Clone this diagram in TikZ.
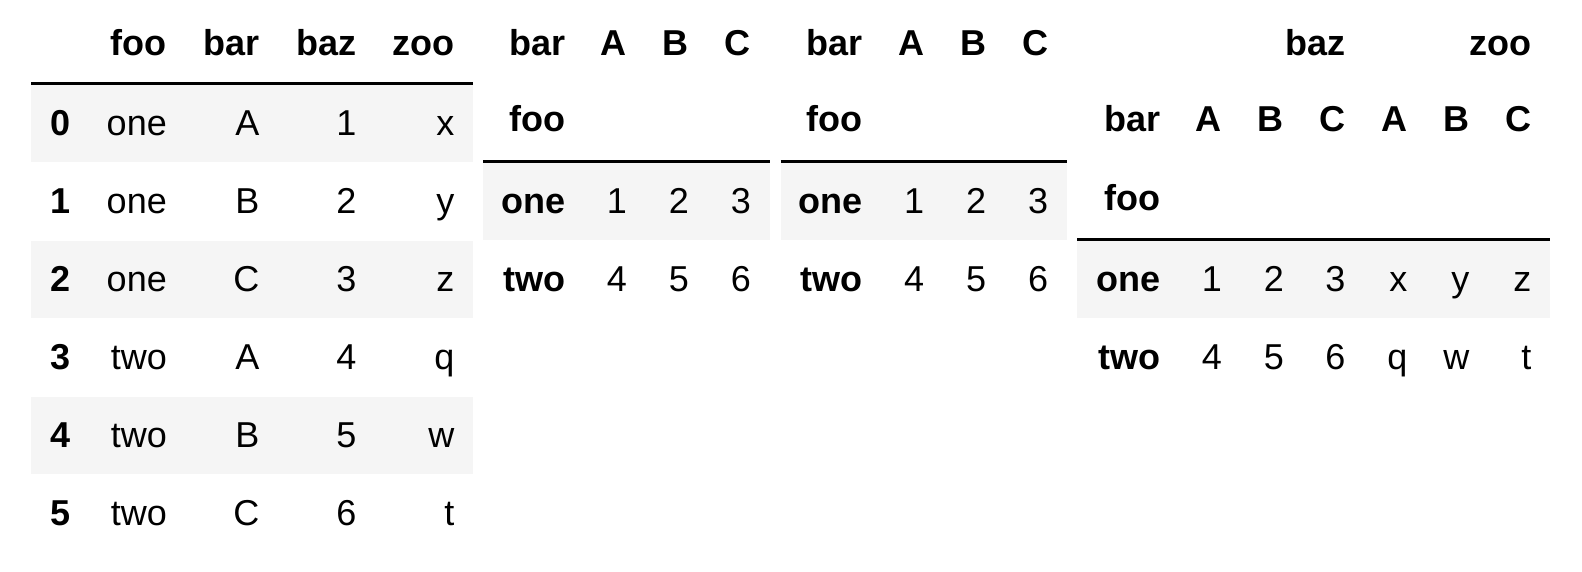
\documentclass[tikz,border=0pt]{standalone}
\usepackage{fontspec}
\setmainfont{Liberation Sans}
\definecolor{rowgray}{RGB}{245,245,245}
\tikzset{
  basefont/.style={font=\fontsize{36}{43}\selectfont},
  hd/.style={anchor=base east, inner sep=0pt, font=\fontsize{36}{43}\selectfont\bfseries},
  cell/.style={anchor=base east, inner sep=0pt, font=\fontsize{36}{43}\selectfont},
  band/.style={fill=rowgray, draw=none},
  hrule/.style={line width=3pt, draw=black},
}
\begin{document}
\begin{tikzpicture}[x=1pt, y=-1pt]
\useasboundingbox (0,0) rectangle (1582,571);
\fill[white] (0,0) rectangle (1582,571);

% ---------- Table 1 ----------
\fill[band] (31,85) rectangle (472.7,162.3);
\fill[band] (31,241) rectangle (472.7,318.3);
\fill[band] (31,397) rectangle (472.7,474.3);
\draw[hrule] (31,83.3) -- (472.7,83.3);
\node[hd] (t1hfoo) at (167,55) {foo};
\node[hd] (t1hbar) at (259.5,55) {bar};
\node[hd] (t1hbaz) at (356.5,55) {baz};
\node[hd] (t1hzoo) at (454.5,55) {zoo};
\foreach \i/\f/\b/\z/\o in {0/one/A/1/x, 1/one/B/2/y, 2/one/C/3/z, 3/two/A/4/q, 4/two/B/5/w, 5/two/C/6/t} {
  \pgfmathsetmacro\yy{135.7+78*\i}
  \node[hd]   (t1r\i idx) at (70.5,\yy)  {\i};
  \node[cell] (t1r\i foo) at (167,\yy)   {\f};
  \node[cell] (t1r\i bar) at (259.5,\yy) {\b};
  \node[cell] (t1r\i baz) at (356.5,\yy) {\z};
  \node[cell] (t1r\i zoo) at (454.5,\yy) {\o};
}

% ---------- Tables 2 and 3 ----------
\foreach \t/\dx in {2/0, 3/297.4} {
  \begin{scope}[xshift=\dx pt]
    \fill[band] (483.3,163.3) rectangle (770,240.3);
    \draw[hrule] (483.3,161.7) -- (770,161.7);
    \node[hd] (t\t hbar) at (565.5,55) {bar};
    \node[hd] (t\t hA) at (627,55) {A};
    \node[hd] (t\t hB) at (689,55) {B};
    \node[hd] (t\t hC) at (751,55) {C};
    \node[hd] (t\t hfoo) at (565.5,131.7) {foo};
    \node[hd]   (t\t one) at (565.5,213.7) {one};
    \node[cell] (t\t oneA) at (627,213.7) {1};
    \node[cell] (t\t oneB) at (689,213.7) {2};
    \node[cell] (t\t oneC) at (751,213.7) {3};
    \node[hd]   (t\t two) at (565.5,291.7) {two};
    \node[cell] (t\t twoA) at (627,291.7) {4};
    \node[cell] (t\t twoB) at (689,291.7) {5};
    \node[cell] (t\t twoC) at (751,291.7) {6};
  \end{scope}
}

% ---------- Table 4 ----------
\fill[band] (1077,240.7) rectangle (1550,318.3);
\draw[hrule] (1077,239.3) -- (1550,239.3);
\node[hd] (t4hbaz) at (1345.5,55) {baz};
\node[hd] (t4hzoo) at (1531.5,55) {zoo};
\node[hd] (t4hbar) at (1160.5,131.7) {bar};
\node[hd] (t4hA1) at (1222,131.7) {A};
\node[hd] (t4hB1) at (1284,131.7) {B};
\node[hd] (t4hC1) at (1345.5,131.7) {C};
\node[hd] (t4hA2) at (1407.5,131.7) {A};
\node[hd] (t4hB2) at (1469.5,131.7) {B};
\node[hd] (t4hC2) at (1531.5,131.7) {C};
\node[hd] (t4hfoo) at (1160.5,210) {foo};
\node[hd]   (t4one) at (1160.5,291.7) {one};
\node[cell] (t4oneA1) at (1222,291.7) {1};
\node[cell] (t4oneB1) at (1284,291.7) {2};
\node[cell] (t4oneC1) at (1345.5,291.7) {3};
\node[cell] (t4oneA2) at (1407.5,291.7) {x};
\node[cell] (t4oneB2) at (1469.5,291.7) {y};
\node[cell] (t4oneC2) at (1531.5,291.7) {z};
\node[hd]   (t4two) at (1160.5,369.7) {two};
\node[cell] (t4twoA1) at (1222,369.7) {4};
\node[cell] (t4twoB1) at (1284,369.7) {5};
\node[cell] (t4twoC1) at (1345.5,369.7) {6};
\node[cell] (t4twoA2) at (1407.5,369.7) {q};
\node[cell] (t4twoB2) at (1469.5,369.7) {w};
\node[cell] (t4twoC2) at (1531.5,369.7) {t};
\end{tikzpicture}
\end{document}
